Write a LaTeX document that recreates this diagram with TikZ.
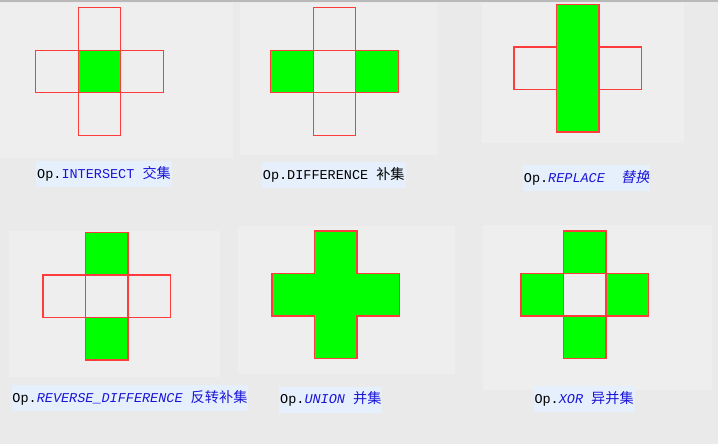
\documentclass[tikz,border=0pt]{standalone}
\usepackage{fontspec}
\setmonofont{Liberation Mono}
\newfontfamily\cjk[Scale=1.05]{Noto Sans CJK SC}
\newfontfamily\cjkslant[Scale=1.05,FakeSlant=0.2]{Noto Sans CJK SC}
\definecolor{cellred}{HTML}{FF3B3B}
\definecolor{setgreen}{HTML}{00FF00}
\definecolor{pagebg}{HTML}{EAEAEA}
\definecolor{panelbg}{HTML}{EEEEEE}
\definecolor{tagbg}{HTML}{E6F0FC}
\definecolor{opblue}{HTML}{1A14D8}

% one cell of a cross, column and row counted from the centre
\newcommand\cellat[3]{\path[#1] ({#2*42.5-21.25},{#3*42.5-21.25}) rectangle ++(42.5,42.5);}

\begin{document}
\begin{tikzpicture}[x=1pt,y=-1pt,
cell/.style = {draw=cellred, line width=1.2pt},
hit/.style  = {cell, fill=setgreen},
tag/.style  = {% operation labels
    fill=tagbg, anchor=west, inner xsep=1pt, inner ysep=0pt,
    minimum height=26pt, text depth=3pt,
    font=\ttfamily\fontsize{13.5}{16}\selectfont,
              },                        ]

  \fill[pagebg] (0,0) rectangle (718,444);
  \fill[gray!55] (0,0) rectangle (718,1.6);

  % panels
  \fill[panelbg] (0,3) rectangle (233,158);
  \fill[panelbg] (240,3) rectangle (437,155);
  \fill[panelbg] (482,3) rectangle (684,143);
  \fill[panelbg] (9,231) rectangle (220,377);
  \fill[panelbg] (238,226) rectangle (455,374);
  \fill[panelbg] (483,225) rectangle (712,390);

  % intersect
  \begin{scope}[shift={(99.5,71.5)}]
    \cellat{cell}{0}{-1}
    \cellat{cell}{-1}{0}
    \cellat{cell}{1}{0}
    \cellat{cell}{0}{1}
    \cellat{hit}{0}{0}
  \end{scope}

  % difference
  \begin{scope}[shift={(334.5,71.5)}]
    \cellat{hit}{-1}{0}
    \cellat{hit}{1}{0}
    \cellat{cell}{0}{-1}
    \cellat{cell}{0}{0}
    \cellat{cell}{0}{1}
  \end{scope}

  % replace
  \begin{scope}[shift={(577.8,68.3)}]
    \cellat{cell}{-1}{0}
    \cellat{cell}{1}{0}
    \path[hit] (-21.25,-63.75) rectangle (21.25,63.75);
  \end{scope}

  % reverse difference
  \begin{scope}[shift={(106.7,296.3)}]
    \cellat{hit}{0}{-1}
    \cellat{hit}{0}{1}
    \cellat{cell}{-1}{0}
    \cellat{cell}{0}{0}
    \cellat{cell}{1}{0}
  \end{scope}

  % union
  \begin{scope}[shift={(335.7,294.7)}]
    \path[hit] (-21.25,-63.75) -- (21.25,-63.75) -- (21.25,-21.25)
      -- (63.75,-21.25) -- (63.75,21.25) -- (21.25,21.25)
      -- (21.25,63.75) -- (-21.25,63.75) -- (-21.25,21.25)
      -- (-63.75,21.25) -- (-63.75,-21.25) -- (-21.25,-21.25) -- cycle;
  \end{scope}

  % xor
  \begin{scope}[shift={(584.7,294.7)}]
    \cellat{cell}{0}{0}
    \cellat{hit}{0}{-1}
    \cellat{hit}{-1}{0}
    \cellat{hit}{1}{0}
    \cellat{hit}{0}{1}
  \end{scope}

  \node[tag] (intersect) at (36,174)
    {Op.\textcolor{opblue}{INTERSECT {\cjk 交集}}};
  \node[tag] (difference) at (261.7,175)
    {Op.DIFFERENCE {\cjk 补集}};
  \node[tag] (replace) at (522.7,177.8)
    {Op.\textcolor{opblue}{\itshape REPLACE\ \ {\cjkslant 替换}}};
  \node[tag] (revdiff) at (11.3,398)
    {Op.\textcolor{opblue}{{\itshape REVERSE\_DIFFERENCE} {\cjk 反转补集}}};
  \node[tag] (union) at (279,399.5)
    {Op.\textcolor{opblue}{{\itshape UNION} {\cjk 并集}}};
  \node[tag] (xor) at (533.3,398.7)
    {Op.\textcolor{opblue}{{\itshape XOR} {\cjk 异并集}}};

\end{tikzpicture}
\end{document}
